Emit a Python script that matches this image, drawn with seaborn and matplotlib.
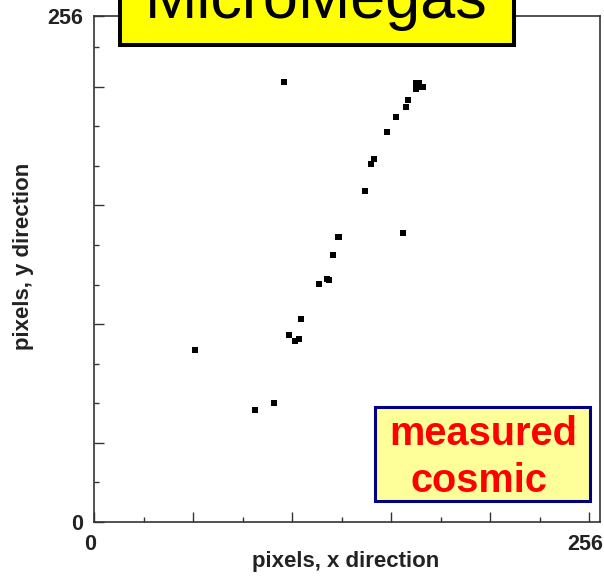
import matplotlib
matplotlib.use("Agg")
import matplotlib.pyplot as plt
import matplotlib.transforms as mtransforms
import numpy as np
import pandas as pd
import seaborn as sns
from matplotlib.patches import Rectangle

# hit pixels
X_PIX = [52.1, 83.2, 93.0, 100.9, 103.9, 106.1, 107.0, 116.3, 120.3, 121.3,
         123.4, 126.4, 139.9, 143.2, 144.7, 151.5, 156.0, 159.9, 161.3, 162.2,
         98.3, 166.3, 168.2, 166.5, 168.6, 170.3]
Y_PIX = [86.9, 56.5, 59.9, 94.5, 91.4, 92.6, 102.4, 120.4, 122.8, 122.3,
         134.9, 143.9, 167.2, 181.0, 183.5, 197.2, 204.6, 146.2, 210.0, 213.3,
         222.3, 221.8, 221.8, 218.8, 220.1, 219.8]

X_MAJOR = [0, 51.2, 102.4, 153.6, 204.8, 256]
X_MINOR = [25.6, 76.8, 128.0, 179.2, 230.4]
Y_MAJOR = [0, 40, 100, 160, 220, 256]
Y_MINOR = [20, 60, 80, 120, 140, 180, 200, 240]
END_LABELS = ["0", "", "", "", "", "256"]

TITLE = "MicroMegas"
NOTE_LINES = ["measured", "cosmic"]

sns.set_style("white")
plt.rcParams["font.family"] = ["Liberation Sans", "DejaVu Sans"]

W, H = 604, 576
fig = plt.figure(figsize=(W / 100, H / 100), dpi=100)
ax = fig.add_axes([94.3 / W, 1 - 521.7 / H, (600 - 94.3) / W, (521.7 - 15.7) / H])

df = pd.DataFrame({"x": X_PIX, "y": Y_PIX})
sns.scatterplot(data=df, x="x", y="y", marker="s", s=20, color="black",
                edgecolor="none", ax=ax, legend=False)

ax.set_xlim(0, 261.7)
ax.set_ylim(0, 256)
ax.set_xticks(X_MAJOR)
ax.set_xticklabels(END_LABELS)
ax.set_xticks(X_MINOR, minor=True)
ax.set_yticks(Y_MAJOR)
ax.set_yticklabels(END_LABELS)
ax.set_yticks(Y_MINOR, minor=True)

for side in ["left", "bottom", "top", "right"]:
    ax.spines[side].set_color("#333333")
    ax.spines[side].set_linewidth(1.2)

ax.tick_params(which="both", direction="in", color="#333333", width=1.0,
               top=False, right=False, left=True, bottom=True)
ax.tick_params(which="major", length=7.2)
ax.tick_params(which="minor", length=3.6)
ax.tick_params(axis="x", which="major", labelsize=15.5, pad=9)
ax.tick_params(axis="y", which="major", labelsize=15.5, pad=8)
for lab in ax.get_xticklabels() + ax.get_yticklabels():
    lab.set_fontweight("bold")
    lab.set_color("#222222")
shift = mtransforms.ScaledTranslation(-3 / 72, 0, fig.dpi_scale_trans)
for lab in ax.get_xticklabels():
    lab.set_transform(lab.get_transform() + shift)

ax.set_xlabel("pixels, x direction", fontsize=16, fontweight="bold", color="#222222")
ax.set_ylabel("pixels, y direction", fontsize=16, fontweight="bold", color="#222222")
ax.xaxis.set_label_coords((346 - 94.3) / 505.7, (521.7 - 551) / 506)
ax.xaxis.label.set_va("top")
ax.yaxis.set_label_coords((34 - 94.3) / 505.7, (521.7 - 256) / 506)

# title box at the top, partly off the figure
fig.patches.append(Rectangle((119.5 / W, 1 - 45.3 / H), (513.7 - 119.5) / W, 60 / H,
                             transform=fig.transFigure, facecolor="#ffff00",
                             edgecolor="black", linewidth=2.9, clip_on=False, zorder=5))
fig.text(316.5 / W, 1 - 18.3 / H, TITLE, ha="center", va="baseline",
         fontsize=45.4, color="black", zorder=6)

# note box in the lower right
fig.patches.append(Rectangle((374.8 / W, 1 - 501.2 / H), (590.2 - 374.8) / W, (501.2 - 406.5) / H,
                             transform=fig.transFigure, facecolor="#ffff99",
                             edgecolor="#000080", linewidth=2.2, zorder=5))
fig.text(483 / W, 1 - 445 / H, NOTE_LINES[0], ha="center", va="baseline",
         fontsize=28.6, fontweight="bold", color="#ff0000", zorder=6)
fig.text(479 / W, 1 - 491.7 / H, NOTE_LINES[1], ha="center", va="baseline",
         fontsize=28.6, fontweight="bold", color="#ff0000", zorder=6)

fig.savefig("out.png", dpi=100)
